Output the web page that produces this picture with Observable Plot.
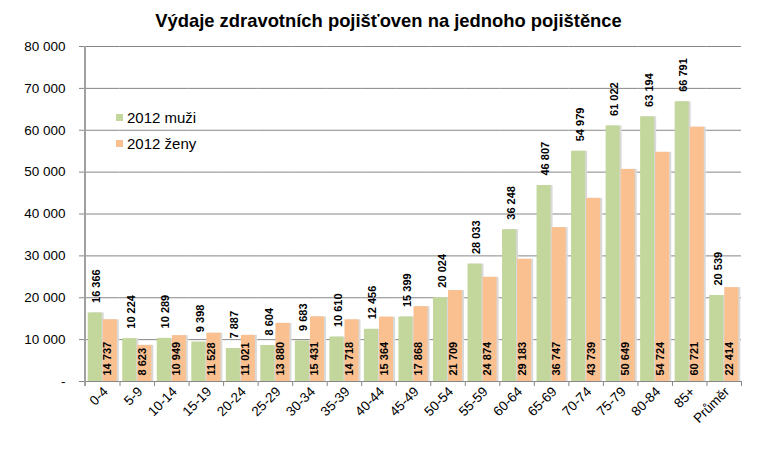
<!DOCTYPE html>
<html>
<head>
<meta charset="utf-8">
<script src="https://cdn.jsdelivr.net/npm/d3@7"></script>
<script src="https://cdn.jsdelivr.net/npm/@observablehq/plot@0.6"></script>
<style>
  html, body { margin: 0; padding: 0; background: #fff; }
  #wrap { position: relative; width: 777px; height: 456px; font-family: 'Liberation Sans', Arial, sans-serif; }
  #title { height: 25px; padding-top: 11px; line-height: 20px; text-align: center; font-weight: bold; font-size: 18.4px; color: #000; }
  #legend { position: absolute; left: 116px; top: 104px; font-size: 15px; color: #000; }
  #legend .item { display: flex; align-items: center; height: 26px; }
  #legend .sw { width: 7px; height: 7px; margin-right: 4px; }
</style>
</head>
<body>
<div id="wrap">
  <div id="title">Výdaje zdravotních pojišťoven na jednoho pojištěnce</div>
  <div id="chart"></div>
  <div id="legend"></div>
</div>
<script>
const ages = ["0-4","5-9","10-14","15-19","20-24","25-29","30-34","35-39","40-44","45-49","50-54","55-59","60-64","65-69","70-74","75-79","80-84","85+","Průměr"];
const series = ["2012 muži", "2012 ženy"];
const men = [16366,10224,10289,9398,7887,8604,9683,10610,12456,15399,20024,28033,36248,46807,54979,61022,63194,66791,20539];
const women = [14737,8623,10949,11528,11021,13880,15431,14718,15364,17868,21709,24874,29183,36747,43739,50649,54724,60721,22414];
const yTicks = [0,10000,20000,30000,40000,50000,60000,70000,80000];
const colors = ["#c3d69b", "#fac090"];

const data = [];
ages.forEach((a, i) => {
  data.push({age: a, sex: series[0], value: men[i]});
  data.push({age: a, sex: series[1], value: women[i]});
});

const fmt = v => v === 0 ? "-" : d3.format(",")(v).replace(/,/g, "\u00a0");

const W = 777, H = 420, mL = 85, mR = 36, mT = 10, mB = 75;
const step = (W - mL - mR) / ages.length;

const chart = Plot.plot({
  width: W, height: H,
  marginTop: mT, marginRight: mR, marginBottom: mB, marginLeft: mL,
  style: {fontFamily: "'Liberation Sans', Arial, sans-serif", color: "#000", background: "#fff", overflow: "visible"},
  fx: {domain: ages, padding: 0, round: false, label: null, axis: null},
  x: {domain: series, paddingInner: 0.07, paddingOuter: 0.18, round: false, axis: null},
  y: {domain: [0, 80000], axis: null},
  color: {domain: series, range: colors},
  marks: [
    Plot.gridY(yTicks.filter(v => v > 0), {stroke: "#868686", strokeOpacity: 1}),
    Plot.barY(data, {fx: "age", x: "sex", y: "value", fill: "#d9d9d9", dx: 2}),
    Plot.barY(data, {fx: "age", x: "sex", y: "value", fill: "sex"}),
    Plot.ruleY([0], {stroke: "#868686"}),
    Plot.axisY({ticks: yTicks, tickSize: 6, tickPadding: 14, tickFormat: fmt, fontSize: 13.5, stroke: "#868686", label: null}),
    Plot.axisFx({anchor: "bottom", tickSize: 5, tickFormat: () => "", dx: -step / 2, stroke: "#868686", label: null}),
    Plot.axisFx({anchor: "bottom", ticks: [ages[ages.length - 1]], tickSize: 5, tickFormat: () => "", dx: step / 2, stroke: "#868686", label: null}),
    Plot.axisFx({anchor: "bottom", tickSize: 0, tickRotate: -45, tickPadding: 8, fontSize: 13.5, label: null, dx: 3}),
    Plot.text(data.filter(d => d.sex === series[0]), {fx: "age", x: "sex", y: "value", text: d => fmt(d.value), rotate: -90, textAnchor: "start", dy: -10, dx: 1.5, fontWeight: "bold", fontSize: 11}),
    Plot.text(data.filter(d => d.sex === series[1]), {fx: "age", x: "sex", frameAnchor: "bottom", text: d => fmt(d.value), rotate: -90, textAnchor: "start", dy: -6, dx: 1, fontWeight: "bold", fontSize: 11})
  ]
});
document.getElementById("chart").appendChild(chart);

// y-axis line along the left edge of the plot frame
const svg = chart.tagName.toLowerCase() === "svg" ? chart : chart.querySelector("svg");
const yAxisLine = document.createElementNS("http://www.w3.org/2000/svg", "line");
yAxisLine.setAttribute("x1", mL); yAxisLine.setAttribute("x2", mL);
yAxisLine.setAttribute("y1", mT); yAxisLine.setAttribute("y2", H - mB + 5);
yAxisLine.setAttribute("stroke", "#a0a0a0"); yAxisLine.setAttribute("stroke-width", 2);
svg.appendChild(yAxisLine);

const legend = document.getElementById("legend");
series.forEach((s, i) => {
  const item = document.createElement("div");
  item.className = "item";
  const sw = document.createElement("span");
  sw.className = "sw";
  sw.style.background = colors[i];
  const t = document.createElement("span");
  t.textContent = s;
  item.appendChild(sw);
  item.appendChild(t);
  legend.appendChild(item);
});
</script>
</body>
</html>
